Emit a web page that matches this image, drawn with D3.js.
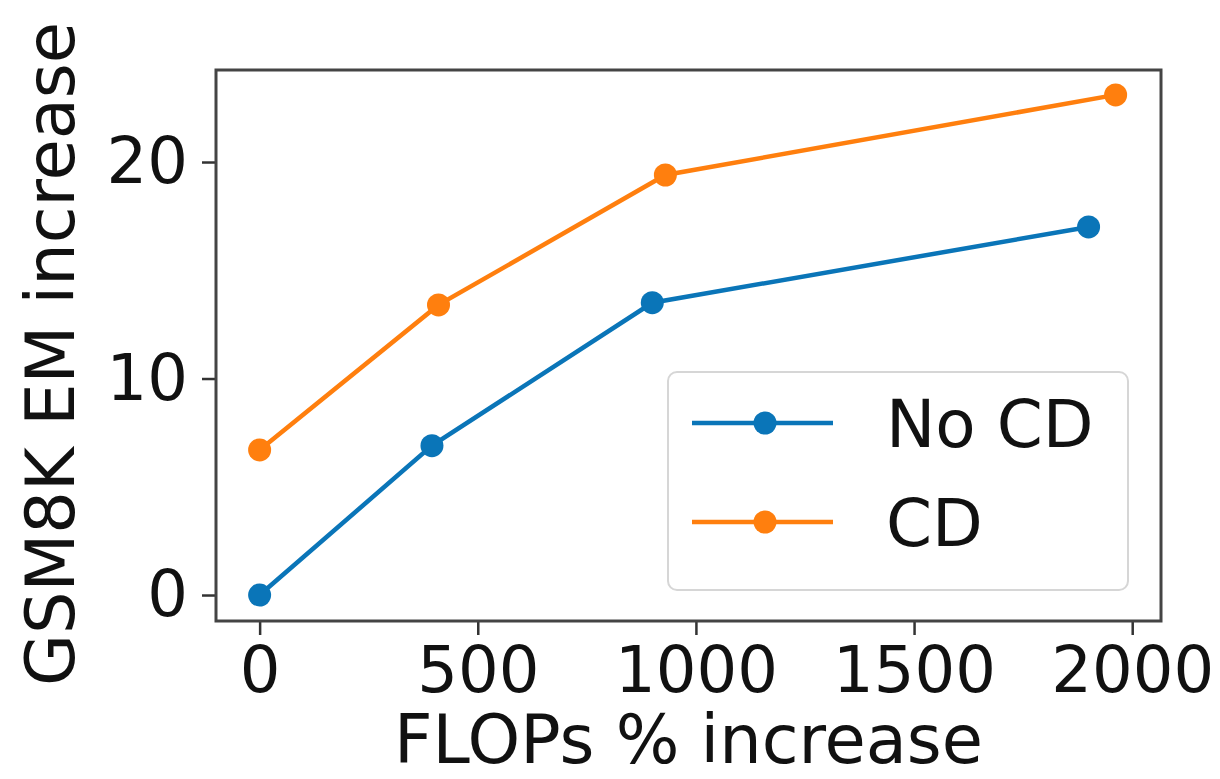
<!DOCTYPE html>
<html>
<head>
<meta charset="utf-8">
<script src="https://cdn.jsdelivr.net/npm/d3@7"></script>
<style>
  body { margin: 0; background: #fff; }
  svg { font-family: "DejaVu Sans", sans-serif; }
</style>
</head>
<body>
<svg></svg>
<script>
const seriesNames = ["No CD", "CD"];
const noCdX = [0, 395, 900, 1900];
const noCdY = [0, 6.9, 13.5, 17.0];
const cdX = [0, 410, 930, 1962];
const cdY = [6.7, 13.4, 19.4, 23.1];
const xTicks = [0, 500, 1000, 1500, 2000];
const yTicks = [0, 10, 20];
const colors = ["#0a75b8", "#ff7f0e"];

const width = 1220;
const height = 779;
const marginLeft = 216;
const marginRight = 59;
const marginTop = 70;
const marginBottom = 158;

const svg = d3.select("svg").attr("width", width).attr("height", height);

const x = d3.scaleLinear([-100, 2066], [marginLeft, width - marginRight]);
const y = d3.scaleLinear([-1.2, 24.25], [height - marginBottom, marginTop]);

// axes
const xAxis = svg
  .append("g")
  .attr("transform", `translate(0, ${height - marginBottom})`)
  .call(
    d3.axisBottom(x).tickValues(xTicks).tickFormat(d3.format("d"))
      .tickSize(14).tickPadding(12).tickSizeOuter(0)
  );
const yAxis = svg
  .append("g")
  .attr("transform", `translate(${marginLeft},0)`)
  .call(
    d3.axisLeft(y).tickValues(yTicks).tickFormat(d3.format("d"))
      .tickSize(14).tickPadding(14).tickSizeOuter(0)
  );

[xAxis, yAxis].forEach((g) => {
  g.select(".domain").remove();
  g.selectAll(".tick line").attr("stroke", "#333").attr("stroke-width", 2.5);
  g.selectAll(".tick text")
    .attr("font-family", "DejaVu Sans")
    .attr("font-size", 64)
    .attr("fill", "#111");
});

// frame
svg
  .append("rect")
  .attr("x", marginLeft)
  .attr("y", marginTop)
  .attr("width", width - marginLeft - marginRight)
  .attr("height", height - marginTop - marginBottom)
  .attr("fill", "none")
  .attr("stroke", "#444")
  .attr("stroke-width", 3);

// lines
const series = [
  { name: seriesNames[0], pts: noCdX.map((d, i) => [d, noCdY[i]]), color: colors[0] },
  { name: seriesNames[1], pts: cdX.map((d, i) => [d, cdY[i]]), color: colors[1] },
];

const line = d3.line().x((d) => x(d[0])).y((d) => y(d[1]));

series.forEach((s) => {
  svg
    .append("path")
    .attr("d", line(s.pts))
    .attr("fill", "none")
    .attr("stroke", s.color)
    .attr("stroke-width", 4.5);
  svg
    .selectAll(null)
    .data(s.pts)
    .enter()
    .append("circle")
    .attr("cx", (d) => x(d[0]))
    .attr("cy", (d) => y(d[1]))
    .attr("r", 11.5)
    .attr("fill", s.color);
});

// legend
const legend = svg.append("g").attr("transform", "translate(668, 372)");
legend
  .append("rect")
  .attr("width", 460)
  .attr("height", 218)
  .attr("rx", 9)
  .attr("fill", "#fff")
  .attr("fill-opacity", 0.8)
  .attr("stroke", "#d6d6d6")
  .attr("stroke-width", 2);

series.forEach((s, i) => {
  const ly = 51 + i * 99;
  legend
    .append("line")
    .attr("x1", 24)
    .attr("x2", 165)
    .attr("y1", ly)
    .attr("y2", ly)
    .attr("stroke", s.color)
    .attr("stroke-width", 4.5);
  legend
    .append("circle")
    .attr("cx", 97)
    .attr("cy", ly)
    .attr("r", 11.5)
    .attr("fill", s.color);
  legend
    .append("text")
    .attr("x", 218)
    .attr("y", ly + 24)
    .attr("font-size", 66)
    .attr("fill", "#111")
    .text(s.name);
});

// axis labels
svg
  .append("text")
  .attr("x", (marginLeft + width - marginRight) / 2)
  .attr("y", 763)
  .attr("text-anchor", "middle")
  .attr("font-size", 67)
  .attr("fill", "#111")
  .text("FLOPs % increase");

svg
  .append("text")
  .attr("transform", `translate(74, 354) rotate(-90)`)
  .attr("text-anchor", "middle")
  .attr("font-size", 67)
  .attr("fill", "#111")
  .text("GSM8K EM increase");
</script>
</body>
</html>
